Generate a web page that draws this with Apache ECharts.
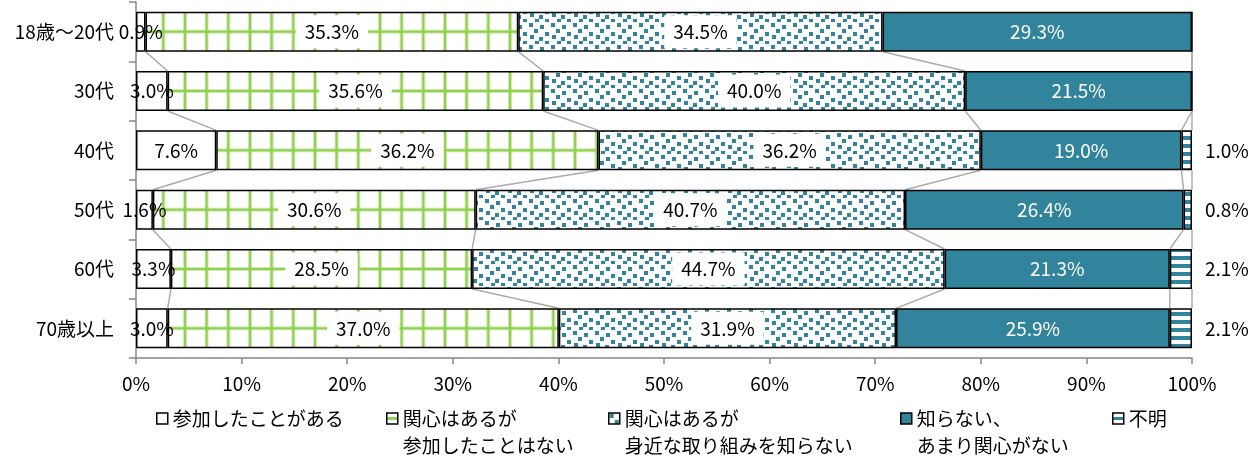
<!DOCTYPE html>
<html>
<head>
<meta charset="utf-8">
<script src="https://cdn.jsdelivr.net/npm/echarts@6/dist/echarts.min.js"></script>
<style>
    html, body { margin: 0; padding: 0; background: #fff; }
    #chart { width: 1257px; height: 457px; }
</style>
</head>
<body>
<div id="chart"></div>
<script>
    // 年代別の回答割合（%）
    var categories = ['18歳～20代', '30代', '40代', '50代', '60代', '70歳以上'];
    var seriesNames = ['参加したことがある', '関心はあるが\n参加したことはない', '関心はあるが\n身近な取り組みを知らない', '知らない、\nあまり関心がない', '不明'];
    var joined = [0.9, 3.0, 7.6, 1.6, 3.3, 3.0];
    var interestedNotJoined = [35.3, 35.6, 36.2, 30.6, 28.5, 37.0];
    var interestedUnaware = [34.5, 40.0, 36.2, 40.7, 44.7, 31.9];
    var notInterested = [29.3, 21.5, 19.0, 26.4, 21.3, 25.9];
    var unknown = [0, 0, 1.0, 0.8, 2.1, 2.1];

    var FONT = '"Noto Sans CJK JP", "Noto Sans", sans-serif';
    var TEAL = '#31849B';
    var GREEN = '#92D050';
    var AXIS = '#868686';

    var values = [joined, interestedNotJoined, interestedUnaware, notInterested, unknown];
    // 100%積み上げ：各年代の合計で割る
    var totals = categories.map(function (c, i) {
        return values.reduce(function (s, arr) { return s + arr[i]; }, 0);
    });
    var shares = values.map(function (arr) {
        return arr.map(function (v, i) { return v / totals[i] * 100; });
    });

    function tile(w, h, draw) {
        var c = document.createElement('canvas');
        c.width = w;
        c.height = h;
        var ctx = c.getContext('2d');
        ctx.fillStyle = '#fff';
        ctx.fillRect(0, 0, w, h);
        draw(ctx);
        return { image: c, repeat: 'repeat' };
    }

    // 格子（緑）
    var gridPattern = tile(65, 178, function (ctx) {
        [11.6, 33.3, 55].forEach(function (x) {
            ctx.fillStyle = 'rgba(146,208,80,0.45)';
            ctx.fillRect(x - 2, 0, 4, 178);
            ctx.fillStyle = GREEN;
            ctx.fillRect(x - 1, 0, 2, 178);
        });
        [31.67, 91, 150.33].forEach(function (y) {
            ctx.fillStyle = 'rgba(146,208,80,0.45)';
            ctx.fillRect(0, y - 2, 65, 4);
            ctx.fillStyle = GREEN;
            ctx.fillRect(0, y - 1, 65, 2);
        });
    });

    // 紙吹雪（青緑）
    var dotPattern = tile(22, 22, function (ctx) {
        ctx.fillStyle = TEAL;
        [[1, 1], [12, 3], [6, 7], [17, 10], [2, 13], [11, 15], [7, 19], [17, 19]].forEach(function (p) {
            ctx.fillRect(p[0], p[1], 4, 4);
        });
    });

    // 横縞（青緑）
    var stripePattern = tile(4, 8, function (ctx) {
        ctx.fillStyle = TEAL;
        ctx.fillRect(0, 0, 4, 4);
    });

    var fills = ['#fff', gridPattern, dotPattern, TEAL, stripePattern];

    function pct(k) {
        return function (p) {
            var v = values[k][p.dataIndex];
            return v ? v.toFixed(1) + '%' : '';
        };
    }

    var labelBase = { show: true, fontSize: 19, fontFamily: FONT, color: '#000' };
    var labels = [
        Object.assign({}, labelBase, { position: 'inside', formatter: pct(0) }),
        Object.assign({}, labelBase, { position: 'inside', formatter: pct(1), backgroundColor: '#fff', padding: [7, 9] }),
        Object.assign({}, labelBase, { position: 'inside', formatter: pct(2), backgroundColor: '#fff', padding: [7, 9] }),
        Object.assign({}, labelBase, { position: 'inside', formatter: pct(3), color: '#fff' }),
        Object.assign({}, labelBase, { position: 'right', distance: 13, formatter: pct(4) })
    ];

    var series = seriesNames.map(function (name, k) {
        return {
            name: name,
            type: 'bar',
            stack: 'total',
            barWidth: 40,
            itemStyle: { color: fills[k], borderColor: '#000', borderWidth: 1.5 },
            label: labels[k],
            emphasis: { disabled: true },
            data: shares[k]
        };
    });

    // 区分線（系列線）
    series.push({
        type: 'custom',
        silent: true,
        z: 1,
        encode: { x: 0, y: 1 },
        data: categories.slice(0, -1).map(function (c, i) { return [0, i]; }),
        renderItem: function (params, api) {
            var i = api.value(1);
            var children = [];
            var cumA = 0, cumB = 0;
            for (var k = 0; k < shares.length; k++) {
                cumA += shares[k][i];
                cumB += shares[k][i + 1];
                var a = api.coord([cumA, i]);
                var b = api.coord([cumB, i + 1]);
                children.push({
                    type: 'line',
                    shape: { x1: a[0], y1: a[1] + 20, x2: b[0], y2: b[1] - 20 },
                    style: { stroke: '#ABABAB', lineWidth: 1.5 }
                });
            }
            return { type: 'group', children: children };
        }
    });

    var legendLeft = [156, 386, 608, 900, 1112];
    var legendIconColor = [
        '#fff',
        new echarts.graphic.LinearGradient(0, 0, 0, 1, [
            { offset: 0, color: '#fff' }, { offset: 0.38, color: '#fff' },
            { offset: 0.38, color: GREEN }, { offset: 0.62, color: GREEN },
            { offset: 0.62, color: '#fff' }, { offset: 1, color: '#fff' }
        ]),
        dotPattern,
        TEAL,
        new echarts.graphic.LinearGradient(0, 0, 0, 1, [
            { offset: 0, color: '#fff' }, { offset: 0.35, color: '#fff' },
            { offset: 0.35, color: TEAL }, { offset: 0.65, color: TEAL },
            { offset: 0.65, color: '#fff' }, { offset: 1, color: '#fff' }
        ])
    ];
    var legends = seriesNames.map(function (name, k) {
        var twoLines = name.indexOf('\n') >= 0;
        return {
            data: [{ name: name, itemStyle: { color: legendIconColor[k] } }],
            left: legendLeft[k],
            top: twoLines ? 378 : 405,
            padding: 0,
            icon: 'rect',
            itemWidth: 11,
            itemHeight: 11,
            itemGap: 0,
            selectedMode: false,
            itemStyle: { borderColor: '#000', borderWidth: 1.5 },
            // 2行の凡例は1行目をアイコンの高さに揃える
            formatter: function (n) { return twoLines ? '\n' + n : n; },
            textStyle: {
                fontSize: 19,
                fontFamily: FONT,
                color: '#000',
                lineHeight: 27
            }
        };
    });

    var option = {
        animation: false,
        backgroundColor: '#fff',
        grid: { left: 136, right: 65, top: 2, bottom: 99 },
        legend: legends,
        xAxis: {
            type: 'value',
            min: 0,
            max: 100,
            interval: 10,
            axisLine: { show: true, lineStyle: { color: AXIS, width: 1.5 } },
            axisTick: { show: true, length: 6, lineStyle: { color: AXIS, width: 1.5 } },
            splitLine: { show: false },
            axisLabel: { formatter: '{value}%', fontSize: 19, fontFamily: FONT, color: '#000', margin: 16 }
        },
        yAxis: {
            type: 'category',
            data: categories,
            inverse: true,
            axisLine: { show: true, lineStyle: { color: AXIS, width: 1.5 } },
            axisTick: { show: true, length: 7, lineStyle: { color: AXIS, width: 1.5 } },
            axisLabel: { fontSize: 19, fontFamily: FONT, color: '#000', margin: 22 }
        },
        series: series
    };

    var myChart = echarts.init(document.getElementById('chart'));
    myChart.setOption(option);
</script>
</body>
</html>
